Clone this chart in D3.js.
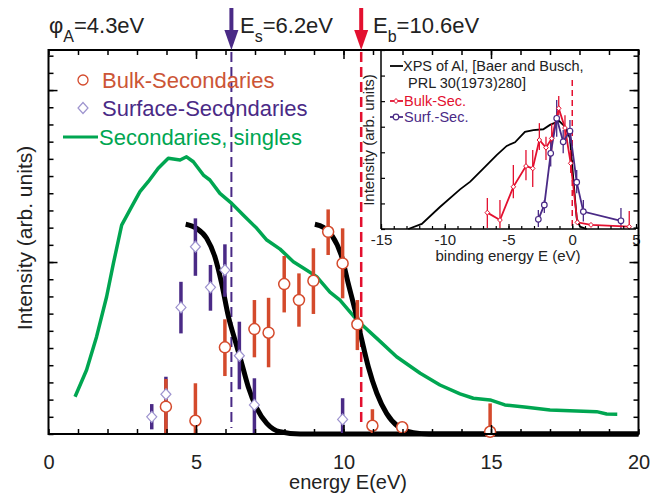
<!DOCTYPE html>
<html lang="en">
<head>
<meta charset="UTF-8">
<title>Secondary electron spectra</title>
<script src="https://d3js.org/d3.v7.min.js"></script>
<style>
  body { margin: 0; background: #fff; }
  svg { display: block; font-family: "Liberation Sans", Arial, sans-serif; }
</style>
</head>
<body>
<div id="chart"></div>
<script>
// ---- main panel data (energy in eV, intensity arb. units) ----
const singlesE = [0.9,1.29,1.63,1.97,2.2,2.48,2.82,3.1,3.38,3.72,4.06,4.46,4.68,4.91,5.25,5.47,5.81,6.21,6.6,7.06,7.4,7.85,8.3,8.69,9.09,9.54,9.88,10.45,11.13,11.8,12.6,13.27,13.95,14.4,14.97,15.47,16.21,17.0,17.9,18.58,18.92,19.28];
const singlesI = [2.17,3.72,5.66,7.98,9.92,12.15,13.22,14.09,14.67,15.45,16.03,15.93,16.12,15.83,15.06,14.77,13.99,13.41,12.73,11.96,11.28,10.75,10.02,9.6,9.15,8.25,7.79,6.63,5.56,4.49,3.53,2.85,2.33,2.08,1.98,1.69,1.55,1.4,1.34,1.3,1.16,1.15];

const edgeSE = [4.65,5.02,5.36,5.64,5.87,6.1,6.32,6.55,6.77,7.06,7.4,7.85,8.53,20];
const edgeSI = [12.2,11.96,11.38,10.31,8.76,6.82,5.47,4.11,2.75,1.49,0.62,0.13,0,0];
const edgeBE = [9.03,9.32,9.6,9.94,10.16,10.39,10.62,10.84,11.13,11.46,11.86,12.37,12.9,20];
const edgeBI = [12.2,12.02,11.57,10.31,8.76,7.21,5.47,3.91,2.37,1.2,0.42,0.08,0,0];

const bulkE  = [3.98,4.98,5.98,6.98,7.46,7.99,8.49,8.98,9.48,9.97,10.47,10.98,11.99,14.97];
const bulkI  = [1.59,0.77,5.04,6.1,5.89,8.72,7.79,8.91,11.76,9.92,6.38,0.48,0.39,0.13];
const bulkHi = [3.2,2.95,6.67,7.79,7.92,10.35,9.34,10.8,13.06,11.96,7.79,1.44,0.39,1.78];
const bulkLo = [0,0,3.37,4.46,3.88,7.07,6.24,6.98,10.41,7.89,4.88,0,0.39,0];

const surfE  = [3.5,3.98,4.49,4.98,5.49,5.98,6.47,6.98,9.97];
const surfI  = [1.0,2.31,7.36,10.89,8.53,9.53,4.55,1.69,0.85];
const surfHi = [1.74,3.33,8.85,12.54,9.83,11.03,6.53,3.24,2.08];
const surfLo = [0.27,0.04,5.85,9.2,7.17,7.98,2.6,0,0];

const phiA = 4.3, eS = 6.2, eB = 10.6;
const xTicks = [0, 5, 10, 15, 20];

// ---- inset data (binding energy eV) ----
const xpsE = [-12.86,-11.8,-10.4,-8.8,-8.0,-7.0,-5.93,-5.14,-4.49,-3.71,-3.05,-2.27,-1.75,-1.02,-0.57,-0.18,0.08,0.35,0.61,1.13];
const xpsI = [0,0.2,0.85,1.55,1.85,2.35,2.89,3.25,3.39,3.8,3.87,3.9,4.07,4.22,4.0,3.55,1.98,0.42,0.09,0];

const ibE  = [-6.66,-5.67,-4.62,-3.63,-3.1,-2.58,-2.06,-1.61,-1.06,-0.57,-0.12,0.4,1.47,4.47];
const ibI  = [0.64,0.35,1.65,2.46,2.37,3.48,3.18,3.54,4.72,3.95,2.57,0.26,0.16,0.09];
const ibHi = [1.21,1.13,2.5,3.09,3.09,4.14,3.61,4.13,5.2,4.45,3.09,0.26,0.16,0.7];
const ibLo = [0.04,0.04,1.2,1.91,1.64,3.09,2.7,3.09,4.45,3.45,2.19,0.26,0.16,0.0];

const isE  = [-2.66,-2.19,-1.69,-1.22,-0.71,-0.18,0.35,0.87,3.82];
const isI  = [0.38,0.94,2.96,4.33,3.41,3.83,1.83,0.68,0.32];
const isHi = [0.74,1.13,3.48,5.04,3.87,4.26,2.31,1.13,0.82];
const isLo = [0.08,0.63,2.44,3.61,2.96,3.35,1.4,0.29,0.0];
const insetTicks = [-15, -10, -5, 0, 5];

const W = 665, H = 495;
const cGreen = "#00a651", cBulk = "#d44a2c", cBulkTxt = "#cc5536", cSurf = "#4a2a86",
      cDiam = "#9e94cf", cRed = "#e3102f";

const svg = d3.select("#chart").append("svg").attr("width", W).attr("height", H);

const x = d3.scaleLinear().domain([0, 20]).range([48.5, 638.5]);
const y = d3.scaleLinear().domain([0, 22.33]).range([434, 50]);

const zip = (a, b) => a.map((v, i) => [v, b[i]]);
const line = d3.line().x(d => x(d[0])).y(d => y(d[1]));

// dashed markers for Es and Eb
svg.append("line").attr("x1", x(eS)).attr("x2", x(eS)).attr("y1", 52).attr("y2", 428)
  .attr("stroke", cSurf).attr("stroke-width", 2).attr("stroke-dasharray", "10,5");
svg.append("line").attr("x1", x(eB)).attr("x2", x(eB)).attr("y1", 52).attr("y2", 427)
  .attr("stroke", cRed).attr("stroke-width", 2.5).attr("stroke-dasharray", "10,5");

svg.append("path").attr("d", line(zip(singlesE, singlesI)))
  .attr("fill", "none").attr("stroke", cGreen).attr("stroke-width", 3.5).attr("stroke-linejoin", "round");

const smooth = d3.line().x(d => x(d[0])).y(d => y(d[1])).curve(d3.curveMonotoneX);
[[edgeSE, edgeSI], [edgeBE, edgeBI]].forEach(([e, v]) => {
  svg.append("path").attr("d", smooth(zip(e, v)))
    .attr("fill", "none").attr("stroke", "#000").attr("stroke-width", 5);
});

// error bars
function errBars(g, e, lo, hi, col, w, xs, ys) {
  g.selectAll(null).data(e).join("line")
    .attr("x1", d => xs(d)).attr("x2", d => xs(d))
    .attr("y1", (d, i) => ys(lo[i])).attr("y2", (d, i) => ys(hi[i]))
    .attr("stroke", col).attr("stroke-width", w);
}
errBars(svg, surfE, surfLo, surfHi, cSurf, 3.5, x, y);
errBars(svg, bulkE, bulkLo, bulkHi, cBulk, 3.5, x, y);

const diamond = "M0,-5.5L5,0L0,5.5L-5,0Z";
svg.selectAll(".surf").data(surfE).join("path").attr("class", "surf")
  .attr("d", diamond).attr("transform", (d, i) => `translate(${x(d)},${y(surfI[i])})`)
  .attr("fill", "#fff").attr("stroke", cDiam).attr("stroke-width", 1.2);
svg.selectAll(".bulk").data(bulkE).join("circle").attr("class", "bulk")
  .attr("cx", d => x(d)).attr("cy", (d, i) => y(bulkI[i])).attr("r", 5.5)
  .attr("fill", "#fff").attr("stroke", cBulk).attr("stroke-width", 1.5);

// legend
svg.append("circle").attr("cx", 83).attr("cy", 80).attr("r", 5).attr("fill", "#fff").attr("stroke", cBulk).attr("stroke-width", 1.3);
svg.append("text").attr("x", 102).attr("y", 88).attr("font-size", 22).attr("fill", cBulkTxt).text("Bulk-Secondaries");
svg.append("path").attr("d", diamond).attr("transform", "translate(83,108)").attr("fill", "#fff").attr("stroke", cDiam).attr("stroke-width", 1.2);
svg.append("text").attr("x", 102).attr("y", 116).attr("font-size", 22).attr("fill", cSurf).text("Surface-Secondaries");
svg.append("line").attr("x1", 63).attr("x2", 98).attr("y1", 137).attr("y2", 137).attr("stroke", cGreen).attr("stroke-width", 3);
svg.append("text").attr("x", 99).attr("y", 145).attr("font-size", 22).attr("fill", cGreen).text("Secondaries, singles");

// ---- inset ----
const xi = d3.scaleLinear().domain([-15, 5]).range([381, 636]);
const yi = d3.scaleLinear().domain([0, 7]).range([229, 50]);
const inset = svg.append("g");
inset.append("rect").attr("x", 381).attr("y", 50).attr("width", 255).attr("height", 179).attr("fill", "#fff");
inset.append("line").attr("x1", xi(0)).attr("x2", xi(0)).attr("y1", 80).attr("y2", 229)
  .attr("stroke", cRed).attr("stroke-width", 1.5).attr("stroke-dasharray", "6,4");
const iline = d3.line().x(d => xi(d[0])).y(d => yi(d[1]));
inset.append("path").attr("d", iline(zip(xpsE, xpsI))).attr("fill", "none").attr("stroke", "#000").attr("stroke-width", 1.8);
errBars(inset, ibE, ibLo, ibHi, cRed, 1.3, xi, yi);
errBars(inset, isE, isLo, isHi, cSurf, 1.3, xi, yi);
inset.append("path").attr("d", iline(zip(ibE, ibI))).attr("fill", "none").attr("stroke", cRed).attr("stroke-width", 1.8);
inset.append("path").attr("d", iline(zip(isE, isI))).attr("fill", "none").attr("stroke", cSurf).attr("stroke-width", 1.8);
const smallDia = "M0,-2.5L2.3,0L0,2.5L-2.3,0Z";
inset.selectAll(".ib").data(ibE).join("path").attr("class", "ib").attr("d", smallDia)
  .attr("transform", (d, i) => `translate(${xi(d)},${yi(ibI[i])})`)
  .attr("fill", "#fff").attr("stroke", cRed).attr("stroke-width", 1);
inset.selectAll(".is").data(isE).join("circle").attr("class", "is")
  .attr("cx", d => xi(d)).attr("cy", (d, i) => yi(isI[i])).attr("r", 2.8)
  .attr("fill", "#fff").attr("stroke", cSurf).attr("stroke-width", 1.2);

// inset axes
inset.append("g").attr("transform", "translate(0,229)")
  .call(d3.axisBottom(xi).tickValues(d3.range(-15, 6)).tickSize(-3).tickFormat(""));
inset.append("g").attr("transform", "translate(0,229)")
  .call(d3.axisBottom(xi).tickValues(insetTicks).tickSize(-5).tickPadding(5).tickFormat(d => d < 0 ? "-" + (-d) : d))
  .call(g => g.selectAll("text").attr("font-size", 15).attr("fill", "#222").attr("font-family", "Liberation Sans, Arial"));
inset.append("g").attr("transform", "translate(381,0)")
  .call(d3.axisLeft(yi).tickValues(d3.range(0, 8)).tickSize(-4).tickFormat(""));
inset.selectAll(".domain").remove();
inset.append("line").attr("x1", 381).attr("x2", 381).attr("y1", 50).attr("y2", 229).attr("stroke", "#000").attr("stroke-width", 1.5);
inset.append("line").attr("x1", 381).attr("x2", 636).attr("y1", 229).attr("y2", 229).attr("stroke", "#000").attr("stroke-width", 1.5);
inset.selectAll(".tick line").attr("stroke-width", 1.2);
inset.append("text").attr("x", 508).attr("y", 261).attr("text-anchor", "middle").attr("font-size", 15).attr("fill", "#222")
  .text("binding energy E (eV)");
inset.append("text").attr("transform", "translate(374,140) rotate(-90)").attr("text-anchor", "middle")
  .attr("font-size", 15).attr("fill", "#222").text("Intensity (arb. units)");

// inset legend
inset.append("line").attr("x1", 390).attr("x2", 403).attr("y1", 66).attr("y2", 66).attr("stroke", "#000").attr("stroke-width", 1.8);
inset.append("text").attr("x", 403).attr("y", 71).attr("font-size", 14.5).attr("fill", "#222").text("XPS of Al, [Baer and Busch,");
inset.append("text").attr("x", 408).attr("y", 88).attr("font-size", 14.5).attr("fill", "#222").text("PRL 30(1973)280]");
inset.append("line").attr("x1", 390).attr("x2", 403).attr("y1", 101).attr("y2", 101).attr("stroke", cRed).attr("stroke-width", 1.8);
inset.append("path").attr("d", smallDia).attr("transform", "translate(396,101)").attr("fill", "#fff").attr("stroke", cRed);
inset.append("text").attr("x", 404).attr("y", 106).attr("font-size", 14.5).attr("fill", cRed).text("Bulk-Sec.");
inset.append("line").attr("x1", 390).attr("x2", 403).attr("y1", 117).attr("y2", 117).attr("stroke", cSurf).attr("stroke-width", 1.8);
inset.append("circle").attr("cx", 396).attr("cy", 117).attr("r", 2.8).attr("fill", "#fff").attr("stroke", cSurf).attr("stroke-width", 1.2);
inset.append("text").attr("x", 404).attr("y", 122).attr("font-size", 14.5).attr("fill", cSurf).text("Surf.-Sec.");

// ---- main axes ----
const axes = svg.append("g");
function mirrored(gen, tr, vals, size) {
  axes.append("g").attr("transform", tr).call(gen.tickValues(vals).tickSize(size).tickFormat(""));
}
const yMinor = d3.range(0, 23), yMajor = [10, 20];
const xMinor = d3.range(0, 21), xMajor = [5, 10, 15];
mirrored(d3.axisLeft(y), "translate(48.5,0)", yMinor, -5);
mirrored(d3.axisLeft(y), "translate(48.5,0)", yMajor, -9);
mirrored(d3.axisRight(y), "translate(638.5,0)", yMinor, -5);
mirrored(d3.axisRight(y), "translate(638.5,0)", yMajor, -9);
mirrored(d3.axisTop(x), "translate(0,50)", xMinor, -5);
mirrored(d3.axisTop(x), "translate(0,50)", xMajor, -9);
mirrored(d3.axisBottom(x), "translate(0,434)", xMinor, -5);
mirrored(d3.axisBottom(x), "translate(0,434)", xMajor, -9);
axes.append("g").attr("transform", "translate(0,434)")
  .call(d3.axisBottom(x).tickValues(xTicks).tickSize(0).tickPadding(21))
  .call(g => g.selectAll("text").attr("font-size", 20).attr("fill", "#222").attr("font-family", "Liberation Sans, Arial"));
axes.selectAll(".domain").remove();
axes.selectAll(".tick line").attr("stroke-width", 1.5);
axes.append("rect").attr("x", 48.5).attr("y", 50).attr("width", 590).attr("height", 384)
  .attr("fill", "none").attr("stroke", "#000").attr("stroke-width", 2);

svg.append("text").attr("x", 348).attr("y", 489).attr("text-anchor", "middle").attr("font-size", 20).attr("fill", "#222")
  .text("energy E(eV)");
svg.append("text").attr("transform", "translate(32,238) rotate(-90)").attr("text-anchor", "middle")
  .attr("font-size", 21).attr("fill", "#222").text("Intensity (arb. units)");

// ---- top annotations ----
function label(xp, main, sub, rest) {
  const t = svg.append("text").attr("x", xp).attr("y", 33).attr("font-size", 22).attr("fill", "#222");
  t.append("tspan").text(main);
  t.append("tspan").attr("font-size", 16).attr("dy", 9).text(sub);
  t.append("tspan").attr("dy", -9).text(rest);
}
label(49, "\u03c6", "A", "=" + phiA + "eV");
label(240, "E", "s", "=" + eS + "eV");
label(373, "E", "b", "=" + eB + "eV");

function arrow(xp, col) {
  svg.append("line").attr("x1", xp).attr("x2", xp).attr("y1", 8).attr("y2", 34).attr("stroke", col).attr("stroke-width", 4);
  svg.append("path").attr("d", `M${xp - 7},30L${xp + 7},30L${xp},50Z`).attr("fill", col);
}
arrow(x(eS), cSurf);
arrow(x(eB), cRed);
</script>
</body>
</html>
